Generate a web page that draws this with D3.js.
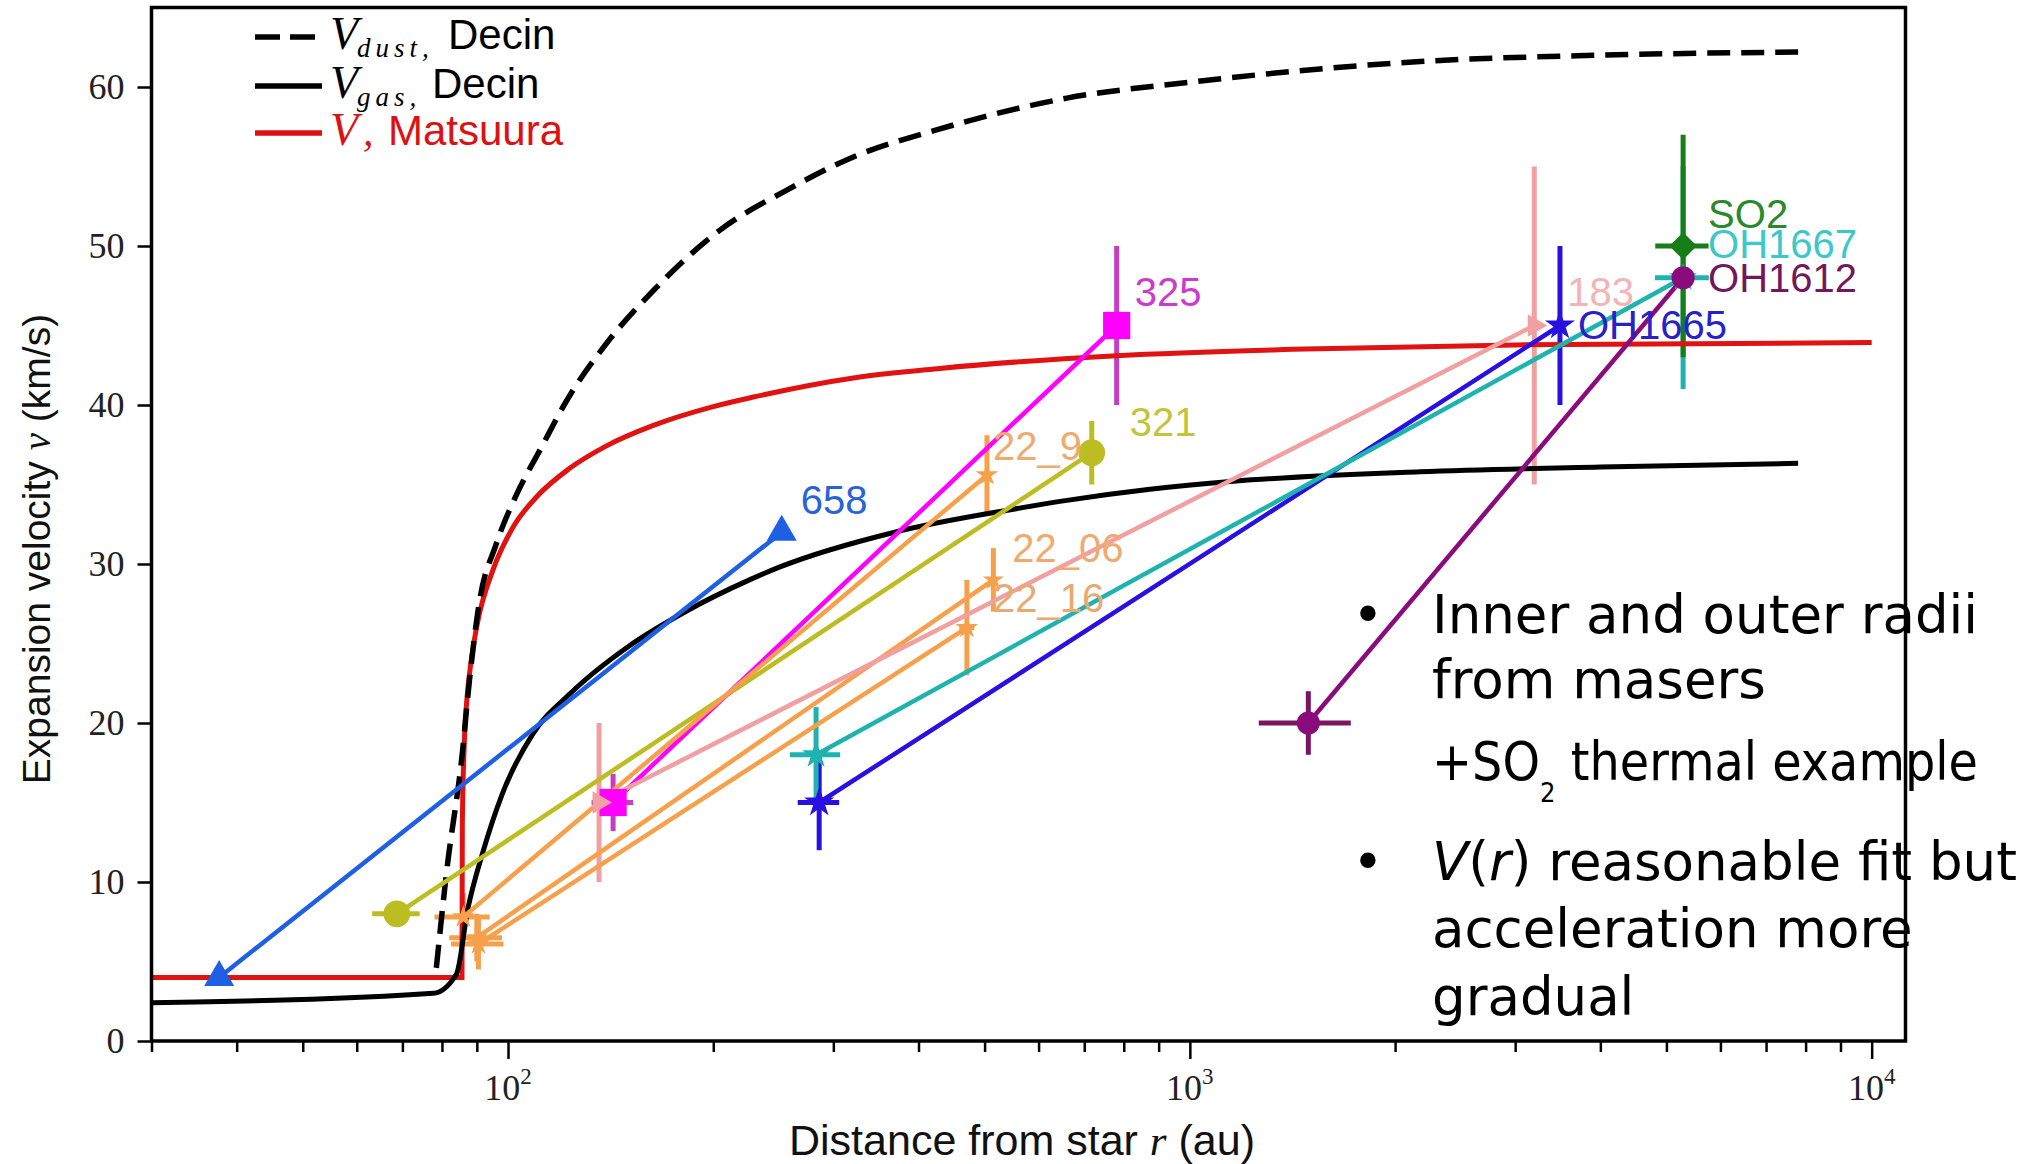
<!DOCTYPE html>
<html>
<head>
<meta charset="utf-8">
<script src="https://cdn.jsdelivr.net/npm/d3@7"></script>
<style>
  body { margin: 0; background: #fff; }
  svg { display: block; }
</style>
</head>
<body>
<div id="chart"></div>
<script>
// ---- model curves (distance au, velocity km/s) ----
const dustR = [78.5, 81.3, 85.6, 87.8, 90.7, 96, 103, 111.5, 122, 139.6, 163.4, 204.6, 256, 321, 425, 660, 1000, 2175, 4000, 7800];
const dustV = [4.6, 10.7, 17.9, 22.7, 27.5, 31.2, 34.4, 37.2, 40.3, 43.9, 47.2, 51.0, 53.5, 55.6, 57.3, 59.3, 60.3, 61.6, 62.0, 62.2];

const gasR = [30, 77.7, 84, 87.3, 91.9, 98, 108.7, 123.7, 150, 182, 226, 250, 369, 543, 660, 874, 1158, 2175, 4000, 7800];
const gasV = [2.4, 3.0, 4.2, 8.3, 11.9, 15.5, 19.3, 21.9, 24.8, 27.0, 29.0, 29.8, 32.0, 33.4, 34.0, 34.7, 35.2, 35.8, 36.1, 36.33];

const matsR = [30, 85.6, 85.7, 86.3, 87, 88.5, 90.1, 95, 102, 110, 123, 139, 163, 200, 229, 321, 430, 781, 1413, 3000, 10000];
const matsV = [4, 4, 13.5, 18.9, 21.4, 24.2, 26.2, 29.6, 32.4, 34.2, 36.0, 37.4, 38.7, 39.9, 40.5, 41.7, 42.3, 43.1, 43.5, 43.78, 43.93];

// ---- maser / thermal line points: inner and outer radius ----
const names = ["658", "321", "325", "22_9", "22_06", "22_16", "183", "OH1665", "OH1667", "OH1612", "SO2"];
const rIn   = [37.7, 68.7, 142.6, 86, 90, 90.5, 136, 286, 283, 1492, null];
const vIn   = [4, 8, 15, 7.8, 6.5, 6.1, 15, 15, 18, 20, null];
const dvIn  = [0, 0, 1.8, 1.5, 1.5, 1.6, 5, 3, 3, 2, 0];
const drIn  = [0, 5.5, 10, 8, 8, 8, 0, 20, 24, 230, 0];
const rOut  = [252, 718, 781, 504, 515, 471, 3200, 3490, 5290, 5290, 5290];
const vOut  = [32, 37, 45, 35.6, 29, 26, 45, 45, 48, 48, 50];
const dvOut = [0, 2, 5, 2.5, 2, 3, 10, 5, 7, 0, 7];
const drOut = [0, 0, 0, 0, 0, 12, 0, 0, 480, 0, 475];

const xTicksMajor = [100, 1000, 10000];
const xTickExp = ["2", "3", "4"];
const xTicksMinor = [30, 40, 50, 60, 70, 80, 90, 200, 300, 400, 500, 600, 700, 800, 900, 2000, 3000, 4000, 5000, 6000, 7000, 8000, 9000];
const yTicks = [0, 10, 20, 30, 40, 50, 60];

// styles
const colors = {
  "658": "#1f5fe3", "321": "#bcbd22", "325": "#ff00ff", "22_9": "#f7a04c",
  "22_06": "#f7a04c", "22_16": "#f7a04c", "183": "#f0a0a0", "OH1665": "#2a10e0",
  "OH1667": "#1fb3b0", "OH1612": "#8a0c7c", "SO2": "#177d17"
};
const barColors = { "325": "#c23ec2", "OH1612": "#7a1560" };
const labelColors = {
  "658": "#2a62d8", "321": "#c4c43a", "325": "#cc3ccc", "22_9": "#f0aa70",
  "22_06": "#f0aa70", "22_16": "#e8aa70", "183": "#f2b4b4", "OH1665": "#2622c8",
  "OH1667": "#3cc8c8", "OH1612": "#74185c", "SO2": "#2a8a2a"
};
const markers = {
  "658": ["triangle", 390], "321": ["circle", 560], "325": ["square", 740],
  "22_9": ["star", 160], "22_06": ["star", 140], "22_16": ["star", 160],
  "183": ["tright", 220], "OH1665": ["star", 280], "OH1667": ["star", 240],
  "OH1612": ["circle", 420], "SO2": ["diamond", 380]
};
const labelOffset = {
  "658": [19, -18], "321": [38, -17], "325": [18, -20], "22_9": [6, -15],
  "22_06": [19, -18], "22_16": [26, -16], "183": [33, -20], "OH1665": [18, 13],
  "OH1667": [25, -20], "OH1612": [25, 14], "SO2": [25, -18]
};

const W = 2027, H = 1164;
const svg = d3.select("#chart").append("svg")
  .attr("width", W).attr("height", H);

const x = d3.scaleLog().domain([30, 11210]).range([151.5, 1905.5]);
const y = d3.scaleLinear().domain([0, 65]).range([1041, 7.5]);

const sans = "'Liberation Sans', Arial, Helvetica, sans-serif";
const serif = "'Liberation Serif', 'Times New Roman', serif";

// clip
svg.append("clipPath").attr("id", "clip").append("rect")
  .attr("x", x.range()[0]).attr("y", y.range()[1])
  .attr("width", x.range()[1] - x.range()[0]).attr("height", y.range()[0] - y.range()[1]);

const plot = svg.append("g").attr("clip-path", "url(#clip)");

function pts(rs, vs) { return rs.map((r, i) => [r, vs[i]]); }

// error bars
names.forEach((n, i) => {
  const c = barColors[n] || colors[n];
  const g = plot.append("g").attr("stroke", c).attr("stroke-width", 5);
  const ends = [];
  if (rIn[i] != null) ends.push([rIn[i], vIn[i], dvIn[i], drIn[i]]);
  ends.push([rOut[i], vOut[i], dvOut[i], drOut[i]]);
  ends.forEach(([r, v, dv, dr]) => {
    if (dv > 0) g.append("line").attr("x1", x(r)).attr("x2", x(r)).attr("y1", y(v - dv)).attr("y2", y(v + dv));
    if (dr > 0) g.append("line").attr("x1", x(r - dr)).attr("x2", x(r + dr)).attr("y1", y(v)).attr("y2", y(v));
  });
});

// model curves
const line = d3.line().x(d => x(d[0])).y(d => y(d[1])).curve(d3.curveMonotoneX);
plot.append("path").datum(pts(matsR, matsV)).attr("d", line)
  .attr("fill", "none").attr("stroke", "#e01212").attr("stroke-width", 5);
plot.append("path").datum(pts(gasR, gasV)).attr("d", line)
  .attr("fill", "none").attr("stroke", "#000").attr("stroke-width", 5);
plot.append("path").datum(pts(dustR, dustV)).attr("d", line)
  .attr("fill", "none").attr("stroke", "#000").attr("stroke-width", 5.5)
  .attr("stroke-dasharray", "23,11");

// connecting lines
names.forEach((n, i) => {
  if (rIn[i] == null) return;
  plot.append("line")
    .attr("x1", x(rIn[i])).attr("y1", y(vIn[i]))
    .attr("x2", x(rOut[i])).attr("y2", y(vOut[i]))
    .attr("stroke", colors[n]).attr("stroke-width", 4.5);
});

// markers
function sym(kind, size) {
  const t = { circle: d3.symbolCircle, square: d3.symbolSquare, star: d3.symbolStar,
              triangle: d3.symbolTriangle, tright: d3.symbolTriangle, diamond: d3.symbolSquare }[kind];
  return d3.symbol().type(t).size(size)();
}
names.forEach((n, i) => {
  const [kind, size] = markers[n];
  const rot = kind === "tright" ? 90 : kind === "diamond" ? 45 : 0;
  const list = rIn[i] != null ? [[rIn[i], vIn[i]], [rOut[i], vOut[i]]] : [[rOut[i], vOut[i]]];
  list.forEach(([r, v]) => {
    plot.append("path").attr("d", sym(kind, size))
      .attr("transform", `translate(${x(r)},${y(v)}) rotate(${rot})`)
      .attr("fill", colors[n]);
  });
});

// point labels
names.forEach((n, i) => {
  const [dx, dy] = labelOffset[n];
  svg.append("text")
    .attr("x", x(rOut[i]) + dx).attr("y", y(vOut[i]) + dy)
    .attr("font-family", sans).attr("font-size", 40)
    .attr("fill", labelColors[n])
    .text(n);
});

// axes
const xMinor = d3.axisBottom(x).tickValues(xTicksMinor).tickSize(11).tickFormat("");
const xMajor = d3.axisBottom(x).tickValues(xTicksMajor).tickSize(18).tickFormat("");
const gxm = svg.append("g").attr("transform", `translate(0,${y(0)})`).call(xMinor);
const gxM = svg.append("g").attr("transform", `translate(0,${y(0)})`).call(xMajor);
[gxm, gxM].forEach(g => {
  g.select(".domain").remove();
  g.selectAll(".tick line").attr("stroke", "#000").attr("stroke-width", 2.5);
});
const xl = svg.append("g");
xTicksMajor.forEach((t, i) => {
  const tx = xl.append("text").attr("x", x(t)).attr("y", 1100)
    .attr("text-anchor", "middle").attr("font-family", serif).attr("font-size", 36).attr("fill", "#222");
  tx.append("tspan").text("10");
  tx.append("tspan").attr("dy", -16).attr("font-size", 23).text(xTickExp[i]);
});

const yAxis = d3.axisLeft(y).tickValues(yTicks).tickSize(14).tickPadding(13);
const gy = svg.append("g").attr("transform", `translate(${x.range()[0]},0)`).call(yAxis);
gy.select(".domain").remove();
gy.selectAll(".tick line").attr("stroke", "#000").attr("stroke-width", 2.5);
gy.selectAll(".tick text").attr("font-family", serif).attr("font-size", 36).attr("fill", "#222");

// frame
svg.append("rect")
  .attr("x", x.range()[0]).attr("y", y.range()[1])
  .attr("width", x.range()[1] - x.range()[0]).attr("height", y.range()[0] - y.range()[1])
  .attr("fill", "none").attr("stroke", "#000").attr("stroke-width", 3.5);

// axis titles
const xt = svg.append("text").attr("x", 1022).attr("y", 1155).attr("text-anchor", "middle")
  .attr("font-family", sans).attr("font-size", 43).attr("fill", "#111");
xt.append("tspan").text("Distance from star ");
xt.append("tspan").attr("font-family", serif).attr("font-style", "italic").text("r");
xt.append("tspan").text(" (au)");

const yt = svg.append("text").attr("transform", "translate(50,549) rotate(-90)").attr("text-anchor", "middle")
  .attr("font-family", sans).attr("font-size", 39).attr("fill", "#111");
yt.append("tspan").text("Expansion velocity ");
yt.append("tspan").attr("font-family", serif).attr("font-style", "italic").text("v");
yt.append("tspan").text(" (km/s)");

// legend
const legend = [
  { sub: "dust,", rest: "Decin", restX: 448, color: "#000", dash: "25,10" },
  { sub: "gas,", rest: "Decin", restX: 432, color: "#000", dash: null },
  { sub: null, rest: "Matsuura", restX: 388, color: "#dd1111", dash: null }
];
const legRows = [37, 86, 133];
legend.forEach((d, i) => {
  const ly = legRows[i];
  svg.append("line").attr("x1", 255).attr("x2", 322).attr("y1", ly).attr("y2", ly)
    .attr("stroke", d.color).attr("stroke-width", 5.5)
    .attr("stroke-dasharray", d.dash);
  const g = svg.append("g").attr("fill", d.color);
  g.append("text").attr("x", 330).attr("y", ly + 12)
    .attr("font-family", serif).attr("font-style", "italic").attr("font-size", 46).text("V");
  if (d.sub) {
    g.append("text").attr("x", 357).attr("y", ly + 20)
      .attr("font-family", serif).attr("font-style", "italic").attr("font-size", 27)
      .attr("letter-spacing", 5).text(d.sub);
  } else {
    g.append("text").attr("x", 363).attr("y", ly + 12)
      .attr("font-family", serif).attr("font-style", "italic").attr("font-size", 42).text(",");
  }
  g.append("text").attr("x", d.restX).attr("y", ly + 12)
    .attr("font-family", sans).attr("font-size", 42).text(d.rest);
});

// bullet notes
const note = svg.append("g").attr("font-family", "'DejaVu Sans', Verdana, sans-serif")
  .attr("font-size", 53).attr("fill", "#000");
function noteLine(yb, parts, len) {
  const t = note.append("text").attr("x", 1432).attr("y", yb);
  if (len) t.attr("textLength", len).attr("lengthAdjust", "spacingAndGlyphs");
  parts.forEach(p => {
    const s = t.append("tspan").text(p.t);
    if (p.i) s.attr("font-style", "italic");
    if (p.dy) s.attr("dy", p.dy);
    if (p.fs) s.attr("font-size", p.fs);
  });
}
note.append("text").attr("x", 1368).attr("y", 633).attr("text-anchor", "middle").text("•");
note.append("text").attr("x", 1368).attr("y", 880).attr("text-anchor", "middle").text("•");
noteLine(633, [{ t: "Inner and outer radii" }]);
noteLine(698, [{ t: "from masers" }]);
noteLine(780, [{ t: "+SO" }, { t: "2", dy: 22, fs: 27 }, { t: " thermal example", dy: -22 }], 546);
noteLine(880, [{ t: "V", i: true }, { t: "(" }, { t: "r", i: true }, { t: ") reasonable fit but" }]);
noteLine(947, [{ t: "acceleration more" }]);
noteLine(1015, [{ t: "gradual" }]);
</script>
</body>
</html>
